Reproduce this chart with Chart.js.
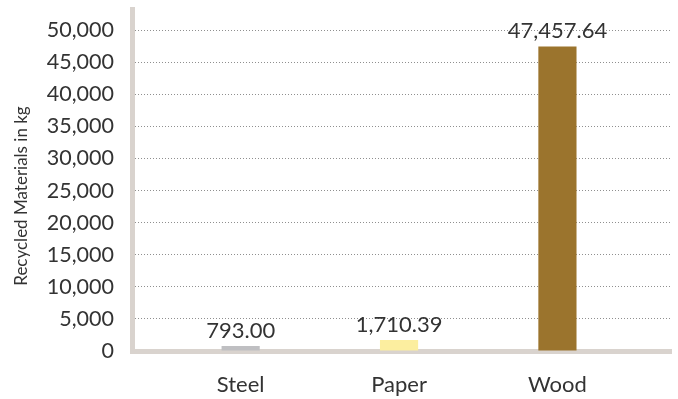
<!DOCTYPE html>
<html>
<head>
<meta charset="utf-8">
<script src="https://cdn.jsdelivr.net/npm/chart.js@4/dist/chart.umd.min.js"></script>
<style>
  html, body { margin: 0; padding: 0; background: #fff; }
  #wrap { width: 678px; height: 399px; }
</style>
</head>
<body>
<div id="wrap"><canvas id="c"></canvas></div>
<script>
// Recycled materials by type (kg)
const categories = ['Steel', 'Paper', 'Wood'];
const recycledKg = [793.00, 1710.39, 47457.64];
const barColors = ['#bfbfc2', '#fcee9f', '#9b742d'];
const yTickValues = [0, 5000, 10000, 15000, 20000, 25000, 30000, 35000, 40000, 45000, 50000];
const yTitle = 'Recycled Materials in kg';

const TEXT = '#333333';
const AXIS = '#d9d3ce';
const FONT = 'Lato';

// Value labels above each bar
const valueLabels = {
  id: 'valueLabels',
  afterDatasetsDraw(chart) {
    const ctx = chart.ctx;
    const meta = chart.getDatasetMeta(0);
    ctx.save();
    ctx.fillStyle = TEXT;
    ctx.font = '22px ' + FONT;
    ctx.textAlign = 'center';
    ctx.textBaseline = 'alphabetic';
    meta.data.forEach((bar, i) => {
      const txt = recycledKg[i].toLocaleString('en-US', {minimumFractionDigits: 2, maximumFractionDigits: 2});
      ctx.fillText(txt, bar.x, bar.y - 8);
    });
    ctx.restore();
  }
};

// Rotated title for the value axis
const axisTitle = {
  id: 'axisTitle',
  afterDraw(chart) {
    const ctx = chart.ctx;
    const area = chart.chartArea;
    ctx.save();
    ctx.translate(21.5, (area.top + area.bottom) / 2 + 16);
    ctx.rotate(-Math.PI / 2);
    ctx.fillStyle = TEXT;
    ctx.font = '17px ' + FONT;
    ctx.textAlign = 'center';
    ctx.textBaseline = 'middle';
    ctx.fillText(yTitle, 0, 0);
    ctx.restore();
  }
};

new Chart(document.getElementById('c'), {
  type: 'bar',
  data: {
    datasets: [{
      data: categories.map((c, i) => ({x: i, y: recycledKg[i]})),
      backgroundColor: barColors,
      borderWidth: 0,
      barPercentage: 0.241,
      categoryPercentage: 1
    }]
  },
  options: {
    responsive: true,
    maintainAspectRatio: false,
    animation: false,
    layout: { padding: { top: 9, right: 7, bottom: 2, left: 0 } },
    plugins: {
      legend: { display: false },
      tooltip: { enabled: false }
    },
    scales: {
      x: {
        type: 'linear',
        offset: false,
        min: -0.686,
        max: 2.717,
        afterBuildTicks(scale) {
          scale.ticks = categories.map((c, i) => ({value: i}));
        },
        afterFit(scale) {
          scale.height = 46;
          scale.paddingLeft = 0;
          scale.paddingRight = 0;
        },
        grid: { display: false, drawTicks: false, offset: false },
        border: { display: true, color: AXIS, width: 5 },
        ticks: {
          padding: 21,
          color: TEXT,
          font: { family: FONT, size: 22 },
          maxRotation: 0,
          autoSkip: false,
          callback: (v) => categories[v] ?? ''
        }
      },
      y: {
        min: 0,
        max: 53300,
        afterBuildTicks(scale) {
          scale.ticks = yTickValues.map(v => ({value: v}));
        },
        afterFit(scale) {
          scale.width = 132;
          scale.paddingTop = 0;
          scale.paddingBottom = 0;
        },
        grid: {
          color: '#8f8f8f',
          lineWidth: 1,
          drawTicks: false
        },
        border: { display: true, color: AXIS, width: 5, dash: [1, 2] },
        ticks: {
          padding: 18,
          color: TEXT,
          font: { family: FONT, size: 21.5 },
          callback: (v) => Number(v).toLocaleString('en-US')
        }
      }
    }
  },
  plugins: [valueLabels, axisTitle]
});
</script>
</body>
</html>
